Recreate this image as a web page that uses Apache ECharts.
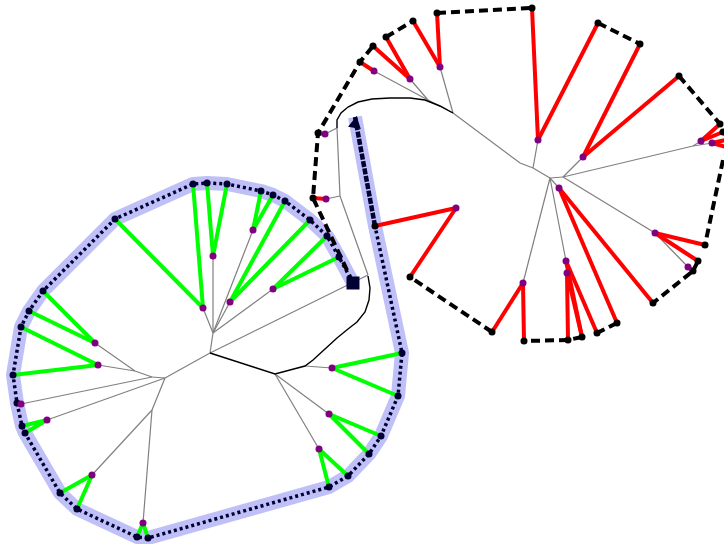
<!DOCTYPE html>
<html><head><meta charset="utf-8">
<script src="https://cdn.jsdelivr.net/npm/echarts@6/dist/echarts.min.js"></script>
<style>html,body{margin:0;padding:0;background:#fff}#c{width:724px;height:544px}</style>
</head><body><div id="c"></div>
<script>
// ---------- Left tree (green) ----------
const leftLeaves = [[339,257],[327,236],[310,220],[285,201],[273,195],[261,191],[227,184],[207,183],[193,184],[115,219],[43,291],[29,311],[21,327],[13,375],[17,403],[22,426],[25,433],[60,493],[77,509],[137,537],[148,538],[329,487],[348,476],[369,454],[381,436],[398,396],[402,353]];
const leftInner = [[273,289],[230,302],[253,230],[213,256],[203,308],[95,343],[98,365],[21,404],[47,420],[92,475],[143,523],[319,449],[329,414],[332,368]];
const leftPairs = [[0,0],[0,1],[1,2],[1,3],[2,4],[2,5],[3,6],[3,7],[4,8],[4,9],[5,10],[5,11],[6,12],[6,13],[8,15],[8,16],[9,17],[9,18],[10,19],[10,20],[11,21],[11,22],[12,23],[12,24],[13,25],[13,26]];
const leftStart = [353,283];
const leftTail = [[375,226],[355,117]];
const leftTreeEdges = [
  [[210,353],[213,333]],[[213,333],[203,308]],[[213,333],[213,256]],[[213,333],[230,302]],
  [[213,333],[253,230]],[[213,333],[273,289]],[[210,353],[368,275]],[[210,353],[165,378]],
  [[165,378],[152,377]],[[152,377],[135,371],[95,343]],[[135,371],[98,365]],[[152,377],[21,404]],
  [[165,378],[47,420]],[[165,378],[152,410]],[[152,410],[92,475]],[[152,410],[143,523]],
  [[305,366],[332,368]],[[275,374],[329,414]],[[275,374],[319,449]]
];
const leftBlackPath = [[210,353],[275,374],[305,366],[313,360],[325,349],[337,338],[348,329],[357,322],[365,312],[369,300],[370,288],[368,276]];

// ---------- Right tree (red) ----------
const rightLeaves = [[313,198],[318,133],[360,62],[373,46],[386,37],[413,21],[437,13],[532,8],[598,23],[640,44],[679,76],[720,124],[723,132],[730,139],[730,148],[705,245],[698,261],[693,271],[653,303],[617,323],[597,333],[582,337],[568,340],[524,341],[492,332],[410,277],[375,226]];
const rightInner = [[326,199],[325,134],[374,71],[410,79],[440,67],[538,140],[583,157],[701,141],[712,143],[655,233],[688,267],[559,188],[566,261],[567,273],[523,283],[456,208]];
const rightPairs = [[0,0],[1,1],[2,2],[3,3],[3,4],[4,5],[4,6],[5,7],[5,8],[6,9],[6,10],[7,11],[7,12],[8,13],[8,14],[9,15],[9,16],[10,17],[11,18],[11,19],[12,20],[12,21],[13,21],[13,22],[14,23],[14,24],[15,25],[15,26]];
const rightTreeEdges = [
  [[368,275],[340,196]],[[340,196],[326,199]],[[340,196],[337,128]],[[337,128],[325,134]],
  [[453,113],[428,100]],[[428,100],[410,79]],[[428,100],[374,71]],[[453,113],[440,67]],
  [[453,113],[520,163],[533,168]],[[533,168],[538,140]],[[533,168],[550,178]],[[550,178],[563,177]],
  [[563,177],[583,157]],[[563,177],[693,146]],[[693,146],[701,141]],[[693,146],[712,143]],
  [[563,177],[655,233],[688,267]],[[550,178],[559,188]],[[550,178],[566,261],[567,273]],[[550,178],[523,283]]
];
const rightBlackPath = [[337,128],[337,120],[341,113],[348,107],[358,102],[372,99],[390,98],[410,98],[425,100],[440,106],[453,113]];
const rightTour = [
  [[353,283],[313,198],[318,133],[360,62],[373,46]],
  [[386,37],[413,21]],
  [[437,13],[532,8]],
  [[598,23],[640,44]],
  [[679,76],[720,124],[723,132],[730,139]],
  [[730,148],[723,160],[705,245]],
  [[698,261],[693,271],[653,303]],
  [[617,323],[597,333]],
  [[582,337],[568,340]],
  [[568,340],[524,341]],
  [[492,332],[410,277]]
];

const seg = arr => arr.map(c => ({coords: c}));
const leftPath = [leftStart, ...leftLeaves, ...leftTail];
const greenSegs = leftPairs.map(([i,j]) => ({coords:[leftInner[i], leftLeaves[j]]}));
const redSegs = rightPairs.map(([i,j]) => ({coords:[rightLeaves[j], rightInner[i]]}));
const ang = Math.atan2(leftTail[0][0]-leftTail[1][0], leftTail[0][1]-leftTail[1][1]) * 180 / Math.PI;

const L = (name, data, style, z) => ({name, type:'lines', coordinateSystem:'cartesian2d', polyline:true, data, lineStyle:Object.assign({opacity:1}, style), z, silent:true, effect:{show:false}});
const S = (data, symbol, size, color, z, extra) => Object.assign({type:'scatter', data, symbol, symbolSize:size, itemStyle:{color, opacity:1}, z, silent:true}, extra || {});

const chart = echarts.init(document.getElementById('c'), null, {renderer:'canvas'});
chart.setOption({
  animation:false,
  grid:{left:0,right:0,top:0,bottom:0},
  xAxis:{type:'value',min:0,max:724,show:false},
  yAxis:{type:'value',min:0,max:544,inverse:true,show:false},
  series:[
    L('band', [{coords:leftPath}], {color:'#c0c0f8', width:14, join:'round'}, 1),
    L('leftEdges', seg(leftTreeEdges), {color:'#808080', width:1.2}, 2),
    L('rightEdges', seg(rightTreeEdges), {color:'#808080', width:1.2}, 2),
    L('leftBlack', [{coords:leftBlackPath}], {color:'#000', width:1.4}, 3),
    L('rightBlack', [{coords:rightBlackPath}], {color:'#000', width:1.4}, 3),
    L('green', greenSegs, {color:'#00ff00', width:4}, 4),
    L('red', redSegs, {color:'#ff0000', width:4}, 4),
    L('navy', [{coords:[leftStart, ...leftLeaves, leftTail[0]]}], {color:'#000033', width:3.5, type:[3,3]}, 5),
    L('navyTail', [{coords:leftTail}], {color:'#000033', width:4.5, type:[6,1.5]}, 5),
    L('tour', seg(rightTour), {color:'#000', width:4, type:[9,5]}, 6),
    S(leftLeaves, 'circle', 7, '#000033', 7),
    S(rightLeaves, 'circle', 7, '#000000', 7),
    S(leftInner.concat(rightInner), 'circle', 7, '#800080', 8),
    S([leftStart], 'rect', 13, '#000033', 9),
    S([[leftTail[1][0]+0.5, leftTail[1][1]+5]], 'triangle', [13,12], '#000033', 9, {symbolRotate:-ang})
  ]
});
</script>
</body></html>
